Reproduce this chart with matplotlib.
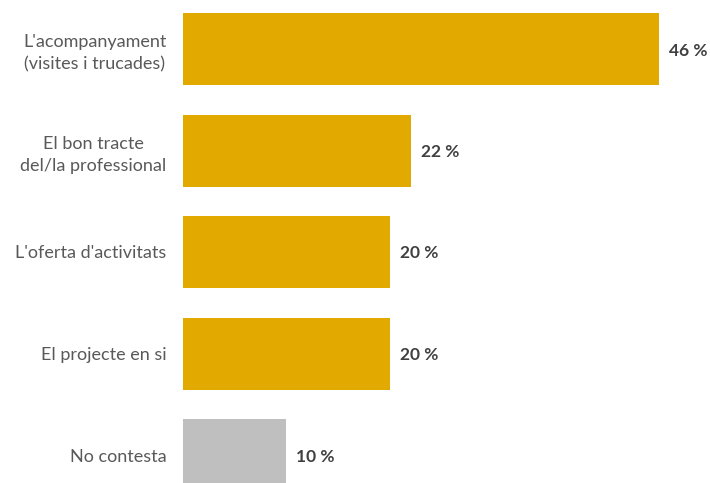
import matplotlib
matplotlib.use("Agg")
import matplotlib.pyplot as plt

categories = ["L'acompanyament\n(visites i trucades)", "El bon tracte\ndel/la professional",
              "L'oferta d'activitats", "El projecte en si", "No contesta"]
values = [46, 22, 20, 20, 10]
value_labels = ["46 %", "22 %", "20 %", "20 %", "10 %"]
colors = ["#E2AA00", "#E2AA00", "#E2AA00", "#E2AA00", "#BFBFBF"]

plt.rcParams['font.family'] = ['Lato', 'DejaVu Sans']

W, H = 710, 483
fig = plt.figure(figsize=(W / 100, H / 100), dpi=100)
left_px = 183
ax = fig.add_axes([left_px / W, 0, 1 - left_px / W, 1])

px_per_unit = (659 - 183) / 46
ax.set_xlim(0, (W - left_px) / px_per_unit)

spacing = 101.5
c0 = 49
ax.set_ylim((H - c0) / spacing, -c0 / spacing)

ypos = list(range(len(values)))
ax.barh(ypos, values, height=72 / spacing, color=colors)

for y, v, lab in zip(ypos, values, value_labels):
    ax.text(v + 10 / px_per_unit, y + 1.5 / spacing, lab, va='center', ha='left',
            fontsize=12.5, fontweight='bold', color='#404040')

ax.set_yticks(ypos)
ax.set_yticklabels(categories, fontsize=13, color='#595959', linespacing=1.45)
for lbl in ax.get_yticklabels():
    lbl.set_horizontalalignment('right')
    lbl.set_multialignment('center')
ax.tick_params(axis='y', length=0, pad=12)
ax.set_xticks([])
for s in ax.spines.values():
    s.set_visible(False)

fig.savefig("out.png", dpi=100)
